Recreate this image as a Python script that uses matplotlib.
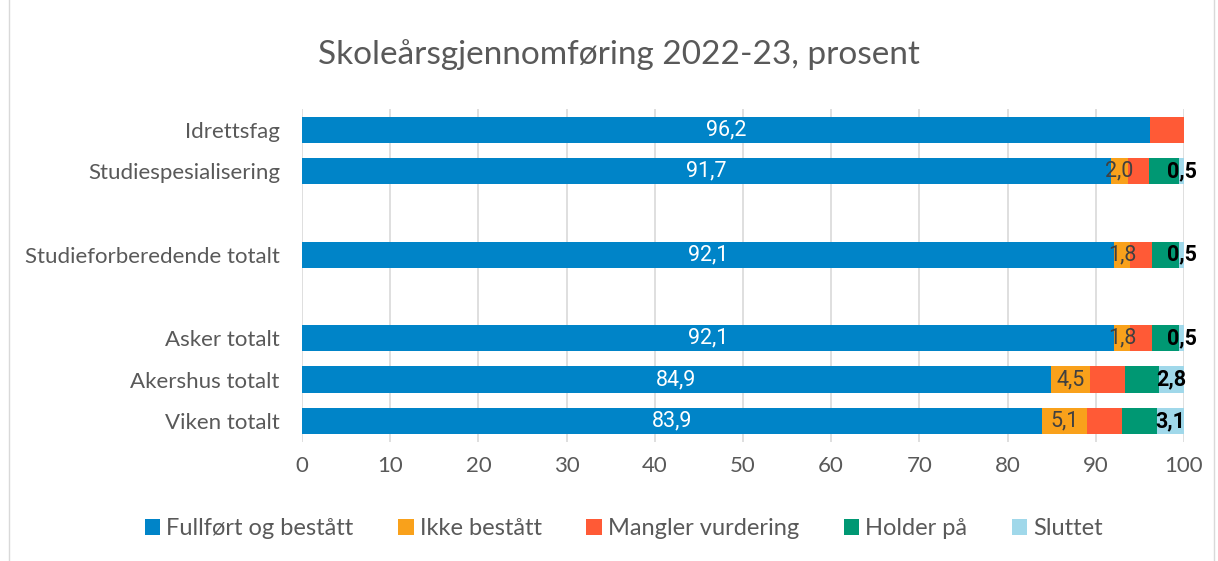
import numpy as np
import matplotlib
matplotlib.use("Agg")
import matplotlib.pyplot as plt
from matplotlib.patches import Rectangle

# data (top to bottom, '' = empty gap row)
kategorier = ['Idrettsfag', 'Studiespesialisering', '', 'Studieforberedende totalt', '',
              'Asker totalt', 'Akershus totalt', 'Viken totalt']
fullfort = [96.2, 91.7, 0, 92.1, 0, 92.1, 84.9, 83.9]
ikke_bestatt = [0, 2.0, 0, 1.8, 0, 1.8, 4.5, 5.1]
mangler = [3.8, 2.3, 0, 2.5, 0, 2.5, 3.9, 4.0]
holder_pa = [0, 3.5, 0, 3.1, 0, 3.1, 3.9, 3.9]
sluttet = [0, 0.5, 0, 0.5, 0, 0.5, 2.8, 3.1]

serier = ['Fullført og bestått', 'Ikke bestått', 'Mangler vurdering', 'Holder på', 'Sluttet']
farger = ['#0084C8', '#F9A11B', '#FF5A36', '#009873', '#A0D8EA']
verdier = [fullfort, ikke_bestatt, mangler, holder_pa, sluttet]
# label colour / weight per series (None = no label)
etikett_farge = ['white', '#404040', None, None, 'black']
etikett_vekt = ['normal', 'normal', None, None, 'bold']

tekst = '#595959'
plt.rcParams['font.family'] = ['Lato', 'DejaVu Sans']

fig = plt.figure(figsize=(12.18, 5.61), dpi=100)
ax = fig.add_axes([0.248, 0.212, 0.724, 0.594])

y = np.arange(len(kategorier))
venstre = np.zeros(len(kategorier))
for navn, farge, v, lf, lv in zip(serier, farger, verdier, etikett_farge, etikett_vekt):
    v = np.array(v)
    bars = ax.barh(y, v, left=venstre, height=0.63, color=farge, label=navn, zorder=3)
    if lf is not None:
        for i, b in enumerate(bars):
            if v[i] > 0:
                ax.text(venstre[i] + v[i] / 2, y[i], f'{v[i]:.1f}'.replace('.', ','),
                        ha='center', va='center', color=lf, fontsize=15.5,
                        family=['Roboto', 'DejaVu Sans'], fontweight=lv, zorder=4)
    venstre += v

ax.set_yticks(y)
ax.set_yticklabels(kategorier, fontsize=16, color=tekst)
ax.set_ylim(len(kategorier) - 0.5, -0.5)
ax.set_xlim(0, 100)
ax.set_xticks(np.arange(0, 101, 10))
ax.tick_params(axis='x', labelsize=16, colors=tekst, length=0, pad=10)
ax.tick_params(axis='y', length=0, pad=16)
ax.grid(axis='x', color='#D9D9D9', linewidth=1.2, zorder=0)
for s in ax.spines.values():
    s.set_visible(False)

fig.suptitle('Skoleårsgjennomføring 2022-23, prosent', x=0.508, y=0.93,
             fontsize=24, color=tekst)

ax.legend(loc='center', bbox_to_anchor=(0.365, -0.26),
          ncol=5, frameon=False, fontsize=17, labelcolor=tekst,
          handlelength=0.65, handleheight=0.65, handletextpad=0.25, columnspacing=1.9)

fig.patches.append(Rectangle((0.007, -0.01), 0.99, 1.02, transform=fig.transFigure,
                             fill=False, edgecolor='#D9D9D9', linewidth=1))

fig.savefig('out.png', dpi=100)
